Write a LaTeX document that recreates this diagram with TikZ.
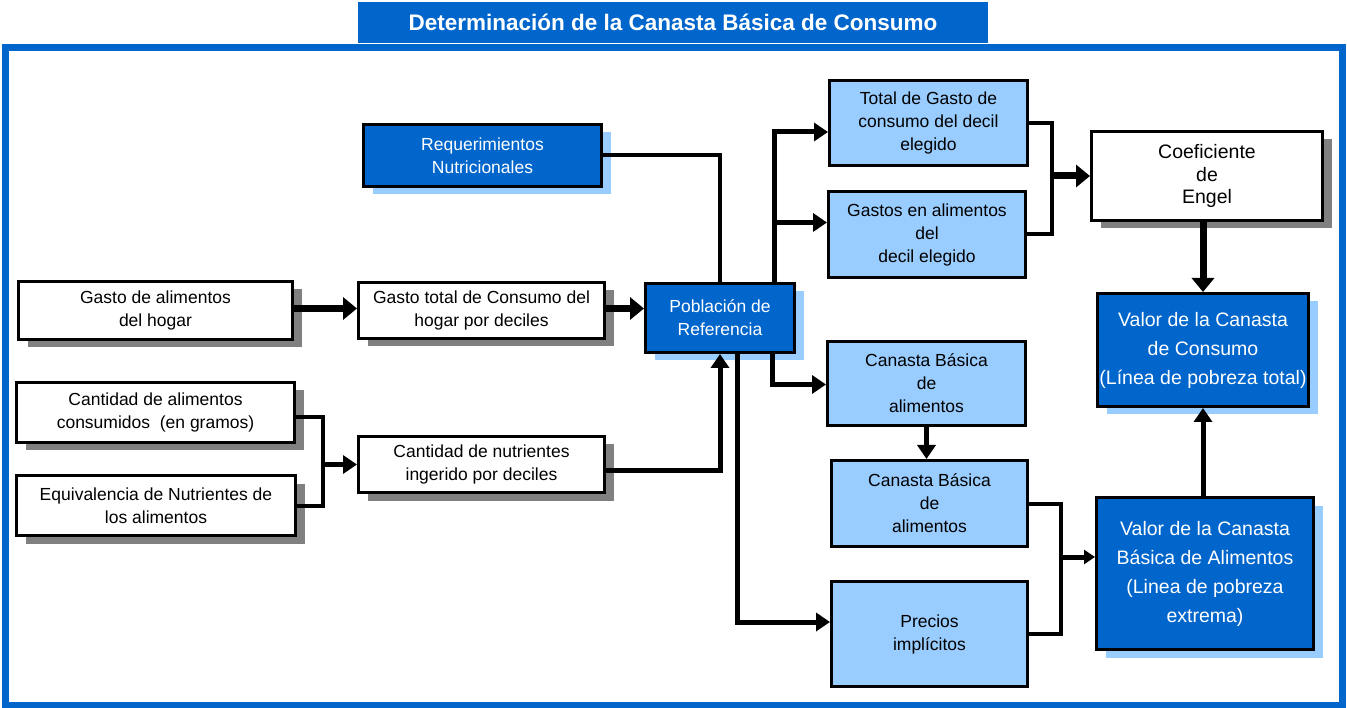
\documentclass[tikz,border=0pt]{standalone}
\usepackage{fontspec}
\setmainfont{Liberation Sans}
\usetikzlibrary{arrows.meta, shadows}
\definecolor{azul}{HTML}{0066CC}
\definecolor{celeste}{HTML}{99CCFF}
\definecolor{sombra}{HTML}{808080}
\tikzset{
x=1pt, y=-1pt, % one unit per pixel, y going down
>={Triangle[length=14pt,width=18pt]}, % filled triangle heads
caja/.style={draw=black, line width=3pt, align=center, inner sep=0pt, font=\fontsize{17.5}{23}\selectfont}, % every box
blanca/.style={caja, fill=white, general shadow={fill=sombra, shadow xshift=9pt, shadow yshift=-8pt}},
oscura/.style={caja, fill=azul, text=white, general shadow={fill=celeste, shadow xshift=9pt, shadow yshift=-8pt}},
clara/.style={caja, fill=celeste}, % light boxes have no shadow
grande/.style={font=\fontsize{19.5}{29}\selectfont},
linea/.style={line width=4pt},
flecha/.style={->, line width=5pt},
gruesa/.style={->, line width=7pt, >={Triangle[length=14pt,width=22pt]}},
}

\begin{document}
\begin{tikzpicture}
    \useasboundingbox (0,0) rectangle (1347,708);
    \draw[azul, line width=7pt] (5,48) rectangle (1342,705);
    \node[fill=azul, text=white, minimum width=630pt, minimum height=41pt, inner sep=0pt,
          font=\bfseries\fontsize{22.5}{27}\selectfont] (titulo) at (673,22.5) {Determinación de la Canasta Básica de Consumo};

    % left column
    \node[oscura, minimum width=238pt, minimum height=62pt] (req) at (482.5,155.5) {Requerimientos\\Nutricionales};
    \node[blanca, minimum width=274pt, minimum height=58pt] (gastoal) at (155.5,310.5) {Gasto de alimentos\\del hogar};
    \node[blanca, minimum width=246pt, minimum height=56pt] (gastotot) at (481.5,310.5) {Gasto total de Consumo del\\hogar por deciles};
    \node[oscura, minimum width=149pt, minimum height=69pt] (pobref) at (720,318) {Población de\\Referencia};
    \node[blanca, minimum width=278pt, minimum height=60pt] (cantal) at (155.5,412.5) {Cantidad de alimentos\\consumidos\ \ (en gramos)};
    \node[blanca, minimum width=279pt, minimum height=60pt] (equiv) at (156,505.5) {Equivalencia de Nutrientes de\\los alimentos};
    \node[blanca, minimum width=246pt, minimum height=56pt] (cantnut) at (481.5,464.5) {Cantidad de nutrientes\\ingerido por deciles};

    % right part
    \node[clara, minimum width=198pt, minimum height=85pt] (totgasto) at (928.5,123) {Total de Gasto de\\consumo del decil\\elegido};
    \node[clara, minimum width=197pt, minimum height=86pt] (gastosal) at (927,234.5) {Gastos en alimentos\\del\\decil elegido};
    \node[blanca, minimum width=231pt, minimum height=89pt, font=\fontsize{19.5}{22.5}\selectfont] (engel) at (1207,176) {Coeficiente\\de\\Engel};
    \node[oscura, grande, minimum width=211pt, minimum height=113pt] (valcons) at (1203,350) {Valor de la Canasta\\de Consumo\\(Línea de pobreza total)};
    \node[clara, minimum width=198pt, minimum height=84pt] (cba1) at (926.5,383.5) {Canasta Básica\\de\\alimentos};
    \node[clara, minimum width=196pt, minimum height=86pt] (cba2) at (929.5,503.5) {Canasta Básica\\de\\alimentos};
    \node[clara, minimum width=196pt, minimum height=105pt] (precios) at (929.5,634) {Precios\\implícitos};
    \node[oscura, grande, minimum width=217pt, minimum height=152pt] (valcba) at (1205,573.5) {Valor de la Canasta\\Básica de Alimentos\\(Linea de pobreza\\extrema)};

    \coordinate (union1) at (323,464.5);
    \coordinate (union2) at (1052,176);
    \coordinate (union3) at (1061,557);

    \draw[linea] (req.east) -| (pobref.north);
    \draw[gruesa] ([yshift=2pt]gastoal.east) -- ([yshift=2pt]gastotot.west);
    \draw[gruesa] ([yshift=2pt]gastotot.east) -- ([yshift=2pt]gastotot.east -| pobref.west);
    \draw[linea] ([yshift=-5pt]cantal.east) -| (union1) |- (equiv.east);
    \draw[flecha] (union1) -- (cantnut.west);
    \draw[flecha] ([yshift=-6pt]cantnut.east) -| (pobref.south);
    \draw[flecha] ([xshift=-22pt]pobref.north east) |- ([yshift=-9pt]totgasto.west);
    \draw[flecha] ([xshift=-22pt]pobref.north east) |- ([yshift=12pt]gastosal.west);
    \draw[flecha] ([xshift=-24pt]pobref.south east) |- ([yshift=-1pt]cba1.west);
    \draw[flecha] ([xshift=17pt]pobref.south) |- ([yshift=12pt]precios.west);
    \draw[flecha] (cba1.south) -- (cba1.south |- cba2.north);
    \draw[linea] (totgasto.east) -| (union2) |- (gastosal.east);
    \draw[gruesa] (union2) -- (engel.west);
    \draw[gruesa] (valcons.north |- engel.south) -- (valcons.north);
    \draw[linea] (cba2.east) -| (union3) |- (precios.east);
    \draw[flecha, >={Triangle[length=11pt,width=14pt]}] (union3) -- (union3 -| valcba.west);
    \draw[flecha] (valcba.north -| valcons.south) -- (valcons.south);
\end{tikzpicture}
\end{document}
